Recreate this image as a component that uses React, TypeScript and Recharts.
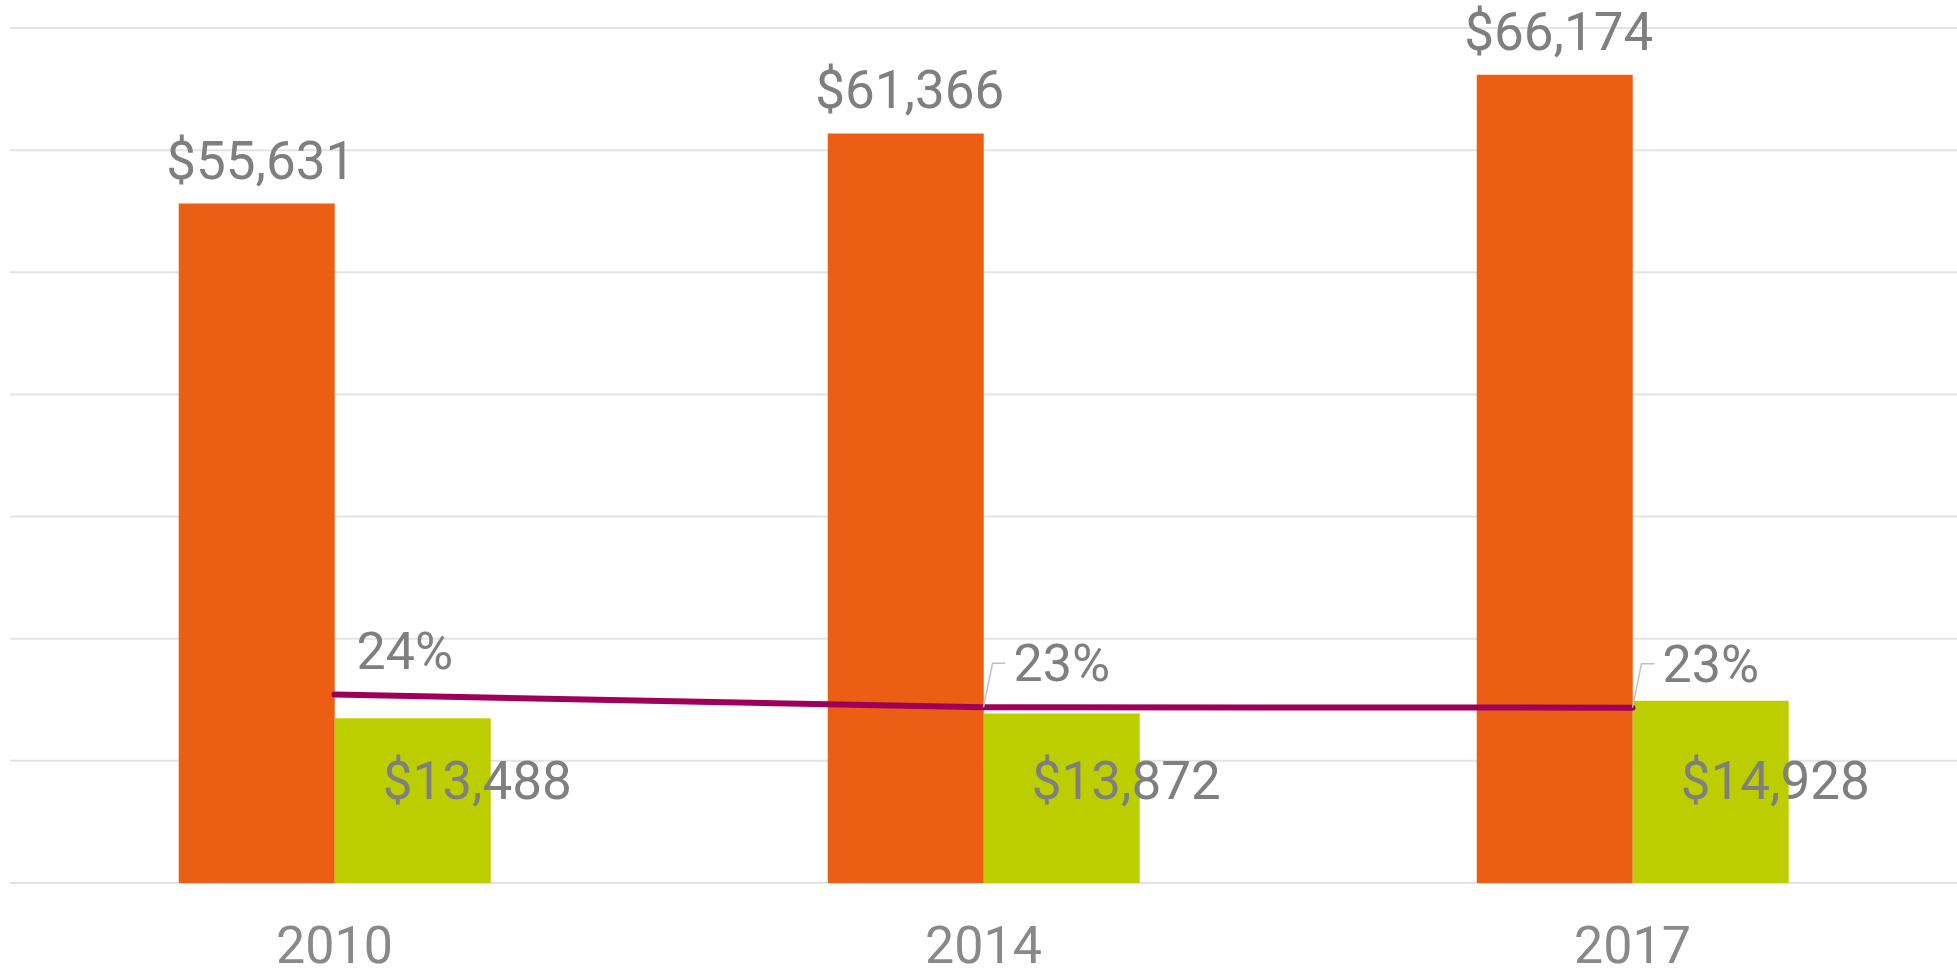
import React from 'react';
import { ComposedChart, Bar, Line, XAxis, YAxis, CartesianGrid, LabelList } from 'recharts';

const years = ['2010', '2014', '2017'];
const medianIncome = [55631, 61366, 66174];
const housingCost = [13488, 13872, 14928];
const shareOfIncome = [0.2425, 0.2261, 0.2256];
const shareLabels = ['24%', '23%', '23%'];
const shareHasLeader = [false, true, true];
const valueTicks = [0, 10000, 20000, 30000, 40000, 50000, 60000, 70000];

const data = years.map((year, i) => ({
  year,
  income: medianIncome[i],
  housing: housingCost[i],
  share: shareOfIncome[i],
}));

const FONT = 'Roboto, "Noto Sans", sans-serif';
const LABEL_COLOR = '#7f7f7f';
const PLOT_BOTTOM = 883;

const money = (v: number) => '$' + v.toLocaleString('en-US');

const TopLabel = (props: any) => {
  const { x, y, width, value } = props;
  return (
    <text x={x + width / 2 + 4} y={y - 25} textAnchor="middle" fontFamily={FONT} fontSize={53} fill={LABEL_COLOR}>
      {money(value)}
    </text>
  );
};

const InnerLabel = (props: any) => {
  const { x, y, height, value } = props;
  return (
    <text x={x + 48} y={y + height - 84} textAnchor="start" fontFamily={FONT} fontSize={53} fill={LABEL_COLOR}>
      {money(value)}
    </text>
  );
};

const ShareLabel = (props: any) => {
  const { x, y, index } = props;
  const i = index ?? 0;
  const lead = shareHasLeader[i];
  return (
    <g>
      {lead && (
        <polyline
          points={`${x},${y} ${x + 9},${y - 44} ${x + 22},${y - 44}`}
          fill="none"
          stroke="#bfbfbf"
          strokeWidth={1.5}
        />
      )}
      <text x={x + (lead ? 30 : 22)} y={y - 26} textAnchor="start" fontFamily={FONT} fontSize={52} fill={LABEL_COLOR}>
        {shareLabels[i]}
      </text>
    </g>
  );
};

const YearTick = (props: any) => {
  const { x, payload } = props;
  return (
    <text x={x} y={PLOT_BOTTOM + 80} textAnchor="middle" fontFamily={FONT} fontSize={52} fill="#898989">
      {payload.value}
    </text>
  );
};

export default function App() {
  return (
    <div style={{ position: 'absolute', left: 0, top: 0, width: 1957, height: 969 }}>
      <ComposedChart
        width={1957}
        height={969}
        data={data}
        margin={{ top: 28, right: 0, left: 10, bottom: 0 }}
        barCategoryGap="26%"
        barGap={0}
      >
        <CartesianGrid vertical={false} stroke="#e3e3e3" strokeWidth={2} />
        <XAxis
          dataKey="year"
          axisLine={false}
          tickLine={false}
          tickSize={0}
          tickMargin={0}
          height={86}
          tick={<YearTick />}
          interval={0}
        />
        <YAxis hide domain={[0, 70000]} ticks={valueTicks} />
        <YAxis yAxisId="pct" hide domain={[0, 1.1]} />
        <Bar dataKey="income" fill="#eb5e14" isAnimationActive={false}>
          <LabelList dataKey="income" content={<TopLabel />} />
        </Bar>
        <Bar dataKey="housing" fill="#bdce00" isAnimationActive={false}>
          <LabelList dataKey="housing" content={<InnerLabel />} />
        </Bar>
        <Line
          yAxisId="pct"
          dataKey="share"
          type="linear"
          stroke="#9e0059"
          strokeWidth={6}
          strokeLinecap="round"
          dot={false}
          activeDot={false}
          isAnimationActive={false}
        >
          <LabelList dataKey="share" content={<ShareLabel />} />
        </Line>
      </ComposedChart>
    </div>
  );
}
